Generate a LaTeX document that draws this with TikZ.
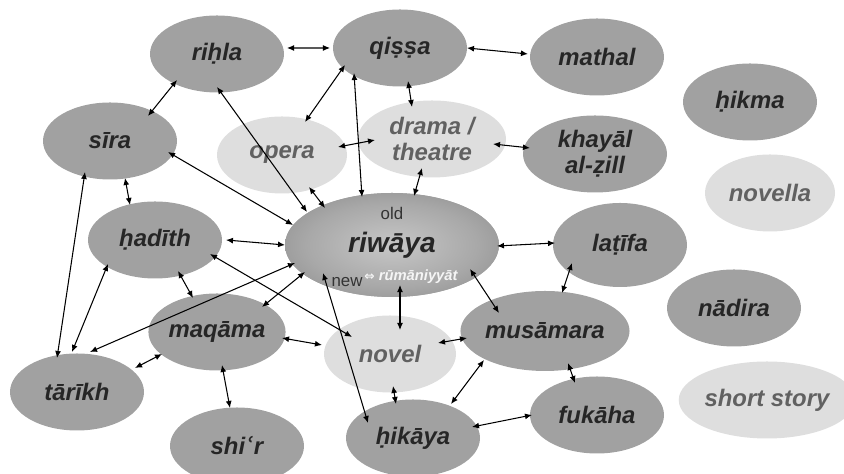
\documentclass[tikz,border=0pt]{standalone}
\usepackage{fontspec}
\setsansfont{Liberation Sans}
\newfontfamily\symfont{DejaVu Sans}
\usetikzlibrary{shapes.geometric,arrows.meta}
\pgfdeclareradialshading{riwayashade}{\pgfpoint{0bp}{0bp}}{color(0bp)=(black!22); color(20bp)=(black!34); color(50bp)=(black!58)}
\begin{document}
\begin{tikzpicture}[
  genre/.style={ellipse, fill=black!37, minimum width=2.68cm, minimum height=1.54cm, inner sep=0pt, align=center,
    font=\sffamily\bfseries\itshape\fontsize{13.6}{15}\selectfont, text=black!85},
  newgenre/.style={genre, fill=black!13, text=black!62},
  link/.style={draw, line width=0.6pt, {Latex[length=4pt,width=3.4pt]}-{Latex[length=4pt,width=3.4pt]}}
]
\useasboundingbox (0,0) rectangle (16.88,9.48);

\node[genre] (rihla) at (4.34,8.40) {riḥla};
\node[genre] (qissa) at (8.00,8.52) {qiṣṣa};
\node[genre] (mathal) at (11.94,8.34) {mathal};
\node[genre] (hikma) at (15.00,7.44) {ḥikma};
\node[genre] (sira) at (2.20,6.66) {sīra};
\node[newgenre, minimum width=2.6cm] (opera) at (5.64,6.38) {opera};
\node[newgenre, minimum width=2.96cm] (drama) at (8.64,6.70) {drama /\\theatre};
\node[genre, minimum width=2.88cm] (khayal) at (11.90,6.40) {khayāl\\al-ẓill};
\node[newgenre, minimum width=2.6cm] (novella) at (15.40,5.62) {novella};
\node[genre, shade, shading=riwayashade, minimum width=4.28cm, minimum height=2.08cm,
  font=\sffamily\bfseries\itshape\fontsize{16}{18}\selectfont] (riwaya) at (7.84,4.58) {riwāya};
\node[genre] (hadith) at (3.10,4.68) {ḥadīth};
\node[genre, minimum height=1.68cm] (latifa) at (12.40,4.58) {laṭīfa};
\node[genre] (nadira) at (14.68,3.32) {nādira};
\node[genre] (maqama) at (4.34,2.84) {maqāma};
\node[newgenre, minimum width=2.64cm] (novel) at (7.80,2.40) {novel};
\node[genre, minimum width=3.36cm, minimum height=1.6cm] (musamara) at (10.90,2.86) {musāmara};
\node[genre] (tarikh) at (1.54,1.64) {tārīkh};
\node[genre] (shir) at (4.74,0.56) {shi{\symfont ʿ}r};
\node[genre] (hikaya) at (8.26,0.72) {ḥikāya};
\node[genre] (fukaha) at (11.94,1.18) {fukāha};
\node[newgenre, minimum width=3.04cm] (shortstory) at (15.34,1.48) {short story};

\node[font=\sffamily\fontsize{9.6}{11}\selectfont, text=black!80] (rwold) at (7.84,5.22) {old};
\node[font=\sffamily\fontsize{9.6}{11}\selectfont, text=black!80] (rwnew) at (6.94,3.84) {new};
\node[font=\sffamily\bfseries\itshape\fontsize{8.4}{10}\selectfont, text=black!4] (rwrum) at (8.22,3.94) {{\symfont\fontsize{7}{8}\selectfont ⇔} rūmāniyyāt};

\path[link] ([shift={(1.40,0.12)}]rihla.center) -- ([shift={(-1.40,0)}]qissa.center);
\path[link] ([shift={(1.34,0)}]qissa.center) -- ([shift={(-1.38,0.06)}]mathal.center);
\path[link] ([shift={(-0.80,-0.52)}]rihla.center) -- ([shift={(0.76,0.50)}]sira.center);
\path[link] ([shift={(0,-0.66)}]rihla.center) -- ([shift={(-1.70,0.66)}]riwaya.center);
\path[link] ([shift={(-1.10,-0.34)}]qissa.center) -- ([shift={(0.46,0.66)}]opera.center);
\path[link] ([shift={(-0.92,-0.50)}]qissa.center) -- ([shift={(-0.60,0.96)}]riwaya.center);
\path[link] ([shift={(0.16,-0.66)}]qissa.center) -- ([shift={(-0.40,0.64)}]drama.center);
\path[link] ([shift={(1.12,0.16)}]opera.center) -- ([shift={(-1.14,-0.02)}]drama.center);
\path[link] ([shift={(1.22,-0.10)}]drama.center) -- ([shift={(-1.30,0.12)}]khayal.center);
\path[link] ([shift={(-0.20,-0.58)}]drama.center) -- ([shift={(0.44,0.98)}]riwaya.center);
\path[link] ([shift={(0.54,-0.64)}]opera.center) -- ([shift={(-1.34,0.74)}]riwaya.center);
\path[link] ([shift={(1.16,-0.22)}]sira.center) -- ([shift={(-1.98,0.40)}]riwaya.center);
\path[link] ([shift={(0.30,-0.74)}]sira.center) -- ([shift={(-0.50,0.70)}]hadith.center);
\path[link] ([shift={(-0.50,-0.62)}]sira.center) -- ([shift={(-0.40,0.68)}]tarikh.center);
\path[link] ([shift={(1.42,0)}]hadith.center) -- ([shift={(-2.14,0)}]riwaya.center);
\path[link] ([shift={(-0.94,-0.48)}]hadith.center) -- ([shift={(-0.10,0.80)}]tarikh.center);
\path[link] ([shift={(0.46,-0.62)}]hadith.center) -- ([shift={(-0.48,0.68)}]maqama.center);
\path[link] ([shift={(1.10,-0.28)}]hadith.center) -- ([shift={(-0.76,0.34)}]novel.center);
\path[link] ([shift={(-1.94,-0.36)}]riwaya.center) -- ([shift={(0.26,0.80)}]tarikh.center);
\path[link] ([shift={(-1.74,-0.54)}]riwaya.center) -- ([shift={(0.90,0.50)}]maqama.center);
\path[link] ([shift={(-1.38,-0.56)}]riwaya.center) -- ([shift={(-0.90,0.30)}]hikaya.center);
\path[link] ([shift={(0.16,-0.80)}]riwaya.center) -- ([shift={(0.20,0.48)}]novel.center);
\path[link] ([shift={(2.10,-0.02)}]riwaya.center) -- ([shift={(-1.30,0.04)}]latifa.center);
\path[link] ([shift={(1.56,-0.48)}]riwaya.center) -- ([shift={(-0.92,0.36)}]musamara.center);
\path[link] ([shift={(-0.96,-0.36)}]latifa.center) -- ([shift={(0.34,0.76)}]musamara.center);
\path[link] ([shift={(1.30,-0.12)}]maqama.center) -- ([shift={(-1.36,0.18)}]novel.center);
\path[link] ([shift={(-1.10,-0.44)}]maqama.center) -- ([shift={(1.16,0.48)}]tarikh.center);
\path[link] ([shift={(0.10,-0.66)}]maqama.center) -- ([shift={(-0.14,0.76)}]shir.center);
\path[link] ([shift={(0.96,0.22)}]novel.center) -- ([shift={(-1.56,-0.14)}]musamara.center);
\path[link] ([shift={(0.06,-0.64)}]novel.center) -- ([shift={(-0.34,0.68)}]hikaya.center);
\path[link] ([shift={(-1.22,-0.58)}]musamara.center) -- ([shift={(0.76,0.68)}]hikaya.center);
\path[link] ([shift={(0.46,-0.64)}]musamara.center) -- ([shift={(-0.44,0.64)}]fukaha.center);
\path[link] ([shift={(1.18,0.22)}]hikaya.center) -- ([shift={(-1.30,0)}]fukaha.center);
\end{tikzpicture}
\end{document}
